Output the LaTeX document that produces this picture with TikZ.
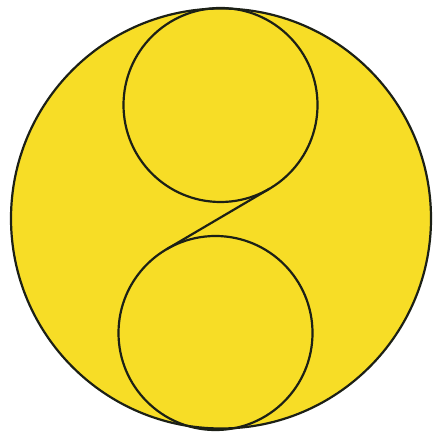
\documentclass[tikz,border=0pt]{standalone}
\usetikzlibrary{calc}
\definecolor{fillyellow}{RGB}{247,221,38}
\definecolor{inkline}{RGB}{28,32,22}
\begin{document}
\begin{tikzpicture}[x=0.5pt,y=-0.5pt]
\tikzset{ink/.style={draw=inkline,line width=1.1pt}}
\useasboundingbox (0,0) rectangle (434,437);
\coordinate (O) at (221,218.5);
\coordinate (C1) at (220.5,105);
\coordinate (C2) at (215.5,333);
\coordinate (T1) at (269.7,188.6);
\coordinate (T2) at (166.3,249.4);
\fill[fillyellow] (O) circle[radius=210];
\draw[ink] (O) circle[radius=210];
\draw[ink] (C1) circle[radius=97];
\draw[ink] (C2) circle[radius=97];
\draw[ink] (T1) -- (T2);
\end{tikzpicture}
\end{document}
